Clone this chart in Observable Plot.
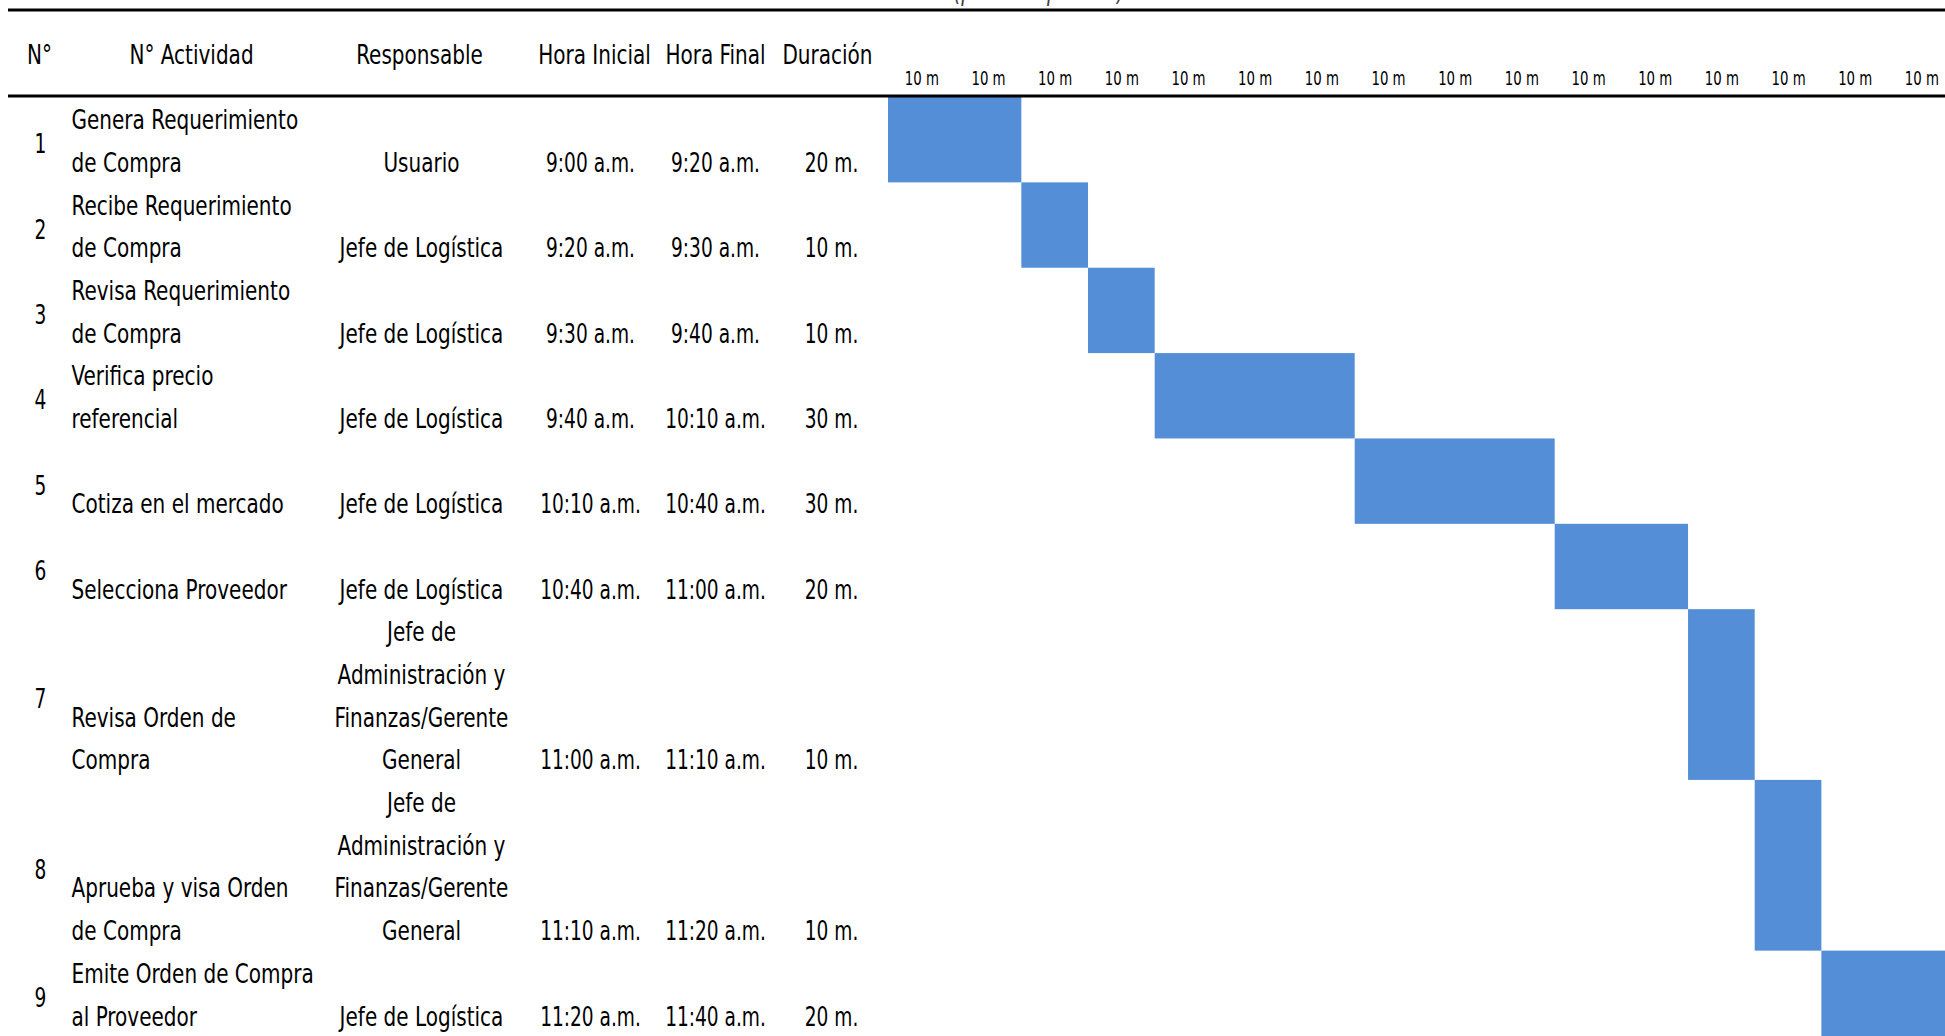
<!DOCTYPE html>
<html>
<head>
<meta charset="utf-8">
<script src="https://cdn.jsdelivr.net/npm/d3@7"></script>
<script src="https://cdn.jsdelivr.net/npm/@observablehq/plot@0.6"></script>
<style>
  html, body { margin: 0; padding: 0; background: #fff; overflow: hidden; }
  #chart svg { display: block; }
</style>
</head>
<body>
<div id="chart"></div>
<script>
// ---------------- DATA ----------------
const titulo = "(proceso por día)";
const encabezados = ["N°", "N° Actividad", "Responsable", "Hora Inicial", "Hora Final", "Duración"];
const numeros = [1, 2, 3, 4, 5, 6, 7, 8, 9];
const actividades = [
  "Genera Requerimiento\nde Compra",
  "Recibe Requerimiento\nde Compra",
  "Revisa Requerimiento\nde Compra",
  "Verifica precio\nreferencial",
  "Cotiza en el mercado",
  "Selecciona Proveedor",
  "Revisa Orden de\nCompra",
  "Aprueba y visa Orden\nde Compra",
  "Emite Orden de Compra\nal Proveedor"
];
const responsables = [
  "Usuario",
  "Jefe de Logística",
  "Jefe de Logística",
  "Jefe de Logística",
  "Jefe de Logística",
  "Jefe de Logística",
  "Jefe de\nAdministración y\nFinanzas/Gerente\nGeneral",
  "Jefe de\nAdministración y\nFinanzas/Gerente\nGeneral",
  "Jefe de Logística"
];
const horasIniciales = ["9:00 a.m.", "9:20 a.m.", "9:30 a.m.", "9:40 a.m.", "10:10 a.m.", "10:40 a.m.", "11:00 a.m.", "11:10 a.m.", "11:20 a.m."];
const horasFinales   = ["9:20 a.m.", "9:30 a.m.", "9:40 a.m.", "10:10 a.m.", "10:40 a.m.", "11:00 a.m.", "11:10 a.m.", "11:20 a.m.", "11:40 a.m."];
const duraciones     = ["20 m.", "10 m.", "10 m.", "30 m.", "30 m.", "20 m.", "10 m.", "10 m.", "20 m."];
const escalaTiempo = ["10 m", "10 m", "10 m", "10 m", "10 m", "10 m", "10 m", "10 m",
                      "10 m", "10 m", "10 m", "10 m", "10 m", "10 m", "10 m", "10 m"];

// ---------------- BUILD TABLE ----------------
const toMin = s => { const [h, m] = s.split(" ")[0].split(":").map(Number); return h * 60 + m; };
const t0 = toMin(horasIniciales[0]);
let acc = 0;
const filas = numeros.map((n, i) => {
  const lines = Math.max(2, actividades[i].split("\n").length, responsables[i].split("\n").length);
  const top = acc; acc += lines;
  return {
    n, act: actividades[i], resp: responsables[i],
    ini: horasIniciales[i], fin: horasFinales[i], dur: duraciones[i],
    start: toMin(horasIniciales[i]) - t0, end: toMin(horasFinales[i]) - t0,
    top, bottom: acc, mid: top + lines / 2
  };
});
const totalLines = acc;

// ---------------- LAYOUT ----------------
const W = 1945, H = 1036;
const TOP = 97, LEFT = 8;
const X0 = 888, PX10 = 66.67;          // gantt origin & px per 10 minutes
const FS = 26.5, FSs = 19;
const NARROW = 0.84, NARROW_NUM = 0.78; // horizontal squeeze of the glyphs
const U = (H - TOP) / totalLines;      // px per text line
const LH = U / FS;
const FONT = "'DejaVu Sans Condensed', 'DejaVu Sans', sans-serif";

const colNum = 40, colAct = 71, colResp = 421, colIni = 590, colFin = 715, colDur = 831;
const headX = [39, 191, 419, 594, 715, 827];
const headBase = 63;

const bodyText = (field, x, anchor) => Plot.text(filas, {
  text: field, y: "bottom", frameAnchor: "left", dx: x - LEFT, dy: -11,
  textAnchor: anchor, lineAnchor: "bottom", lineHeight: LH, fontSize: FS, fill: "black"
});

const chart = Plot.plot({
  width: W, height: H,
  marginTop: TOP, marginLeft: LEFT, marginRight: 0, marginBottom: 0,
  style: { fontFamily: FONT, fontSize: FS + "px", background: "white", color: "black" },
  x: { domain: [0, 160], range: [X0, X0 + 16 * PX10], axis: null },
  y: { domain: [0, totalLines], range: [TOP, H], axis: null },
  marks: [
    Plot.rect(filas, { x1: "start", x2: "end", y1: "top", y2: "bottom", fill: "#548ed6" }),
    Plot.ruleY([0], { stroke: "black", strokeWidth: 3, dy: -1.5 }),
    Plot.ruleY([0], { stroke: "black", strokeWidth: 3, dy: -(TOP - 9.5) }),
    // title (mostly cut off above the page)
    Plot.text([titulo], { frameAnchor: "top-left", dx: 953 - LEFT, dy: -(TOP + 1), textAnchor: "start",
      lineAnchor: "bottom", fontSize: FS, fontStyle: "italic", fill: "#404040" }),
    // header
    ...encabezados.map((h, i) => Plot.text([h], {
      frameAnchor: "top-left", dx: headX[i] - LEFT, dy: headBase - TOP,
      textAnchor: "middle", lineAnchor: "bottom", fontSize: FS, fill: "black"
    })),
    // time scale labels
    Plot.text(escalaTiempo, { x: (d, i) => i * 10 + 5, text: d => d, frameAnchor: "top", dy: -12.5,
      lineAnchor: "bottom", textAnchor: "middle", fontSize: FSs, fill: "black" }),
    // numbers
    Plot.text(filas, { text: "n", y: "mid", frameAnchor: "left", dx: colNum - LEFT, dy: 4.5,
      textAnchor: "middle", lineAnchor: "middle", fontSize: FS, fill: "black" }),
    bodyText("act", colAct, "start"),
    bodyText("resp", colResp, "middle"),
    bodyText("ini", colIni, "middle"),
    bodyText("fin", colFin, "middle"),
    bodyText("dur", colDur, "middle")
  ]
});

// squeeze glyphs horizontally around each text's own anchor (narrow typeface look)
chart.querySelectorAll("text").forEach(el => {
  const t = el.getAttribute("transform") || "";
  const k = /^\d/.test(el.textContent) ? NARROW_NUM : NARROW;
  el.setAttribute("transform", (t + ` scale(${k},1)`).trim());
});
document.getElementById("chart").appendChild(chart);
</script>
</body>
</html>
